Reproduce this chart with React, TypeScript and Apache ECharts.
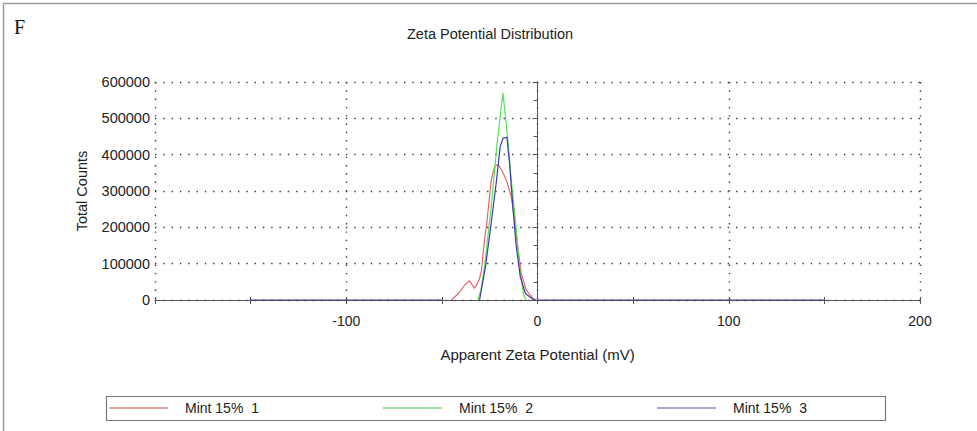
import React, { useEffect, useRef } from "react";
import * as echarts from "echarts";

// Zeta potential (mV) and total counts for the three runs
const run1Mv = [-45, -41, -38, -35.5, -33, -30.5, -29.4, -27.7, -26.5, -24.2, -22.5, -21.6, -20.2, -18.5, -16.3, -13.7, -12, -10.3, -8.5, -5.9, -2.4, -1];
const run1Counts = [0, 20000, 42000, 53000, 32000, 55000, 78000, 165000, 212000, 330000, 365000, 372000, 370000, 355000, 330000, 284000, 220000, 147000, 74000, 27000, 5000, 0];

const run2Mv = [-31.2, -29.5, -27.7, -24.2, -21.3, -18.1, -16, -13.7, -11.1, -9.4, -7.3, -5.9];
const run2Counts = [0, 30000, 92000, 257000, 422000, 570000, 468000, 330000, 193000, 92000, 14000, 0];

const run3Mv = [-150, -50, -40, -30.3, -27.2, -24.2, -21.6, -19.5, -18.1, -16, -14.6, -12.9, -11.1, -9, -6.3, -2.4, -1, -0.5, 0, 150];
const run3Counts = [0, 0, null, 0, 92000, 212000, 322000, 422000, 445000, 448000, 376000, 257000, 147000, 64000, 18000, 2000, 0, null, 0, 0];

const seriesNames = ["Mint 15%  1", "Mint 15%  2", "Mint 15%  3"];
const lineColors = ["#e5646c", "#58e058", "#3c3ca6"];
const legendColors = ["#e8a4a4", "#a6dea6", "#a8a8d2"];

const xTickLabels = ["-100", "0", "100", "200"];

const pairs = (xs: number[], ys: (number | null)[]) => xs.map((x, i) => [x, ys[i]]);

const FONT = "Liberation Sans, Arial, sans-serif";

export default function App() {
  const ref = useRef<HTMLDivElement>(null);

  useEffect(() => {
    if (!ref.current) return;
    const chart = echarts.init(ref.current, null, { renderer: "svg" });

    const dotted = { color: "#3a3a3a", width: 1.4, type: [1.4, 6.9] as number[] };

    const legendX = [109, 383, 657];

    chart.setOption({
      animation: false,
      backgroundColor: "#ffffff",
      grid: { left: 155, right: 57, top: 82, bottom: 131 },
      xAxis: [
        {
          type: "value",
          min: -200,
          max: 200,
          interval: 100,
          name: "Apparent Zeta Potential (mV)",
          nameLocation: "middle",
          nameGap: 47,
          nameTextStyle: { fontFamily: FONT, fontSize: 15, color: "#222" },
          axisLine: { show: true, onZero: false, lineStyle: { color: "#555", width: 1 } },
          axisTick: { show: true, length: 4, lineStyle: { color: "#555" } },
          minorTick: { show: true, splitNumber: 2, length: 4, lineStyle: { color: "#555" } },
          axisLabel: {
            margin: 14,
            fontFamily: FONT,
            fontSize: 14,
            color: "#222",
            formatter: (v: number) => (xTickLabels.includes(String(v)) ? String(v) : ""),
          },
          splitLine: { show: true, lineStyle: dotted },
        },
        {
          type: "value",
          min: -200,
          max: 200,
          interval: 100,
          position: "bottom",
          axisLine: { show: false },
          axisTick: { show: true, inside: true, length: 3, lineStyle: { color: "#555" } },
          minorTick: { show: true, splitNumber: 2, length: 3, lineStyle: { color: "#555" } },
          axisLabel: { show: false },
          splitLine: { show: false },
        },
      ],
      yAxis: {
        type: "value",
        min: 0,
        max: 600000,
        interval: 100000,
        name: "Total Counts",
        nameLocation: "middle",
        nameRotate: 90,
        nameGap: 66,
        nameTextStyle: { fontFamily: FONT, fontSize: 14.5, color: "#222" },
        axisLine: { show: true, lineStyle: { color: "#555", width: 1 } },
        axisTick: { show: true, length: 5, lineStyle: { color: "#555" } },
        minorTick: { show: true, splitNumber: 2, length: 4, lineStyle: { color: "#555" } },
        axisLabel: {
          margin: 5,
          fontFamily: FONT,
          fontSize: 14.5,
          color: "#222",
          formatter: (v: number) => String(v),
        },
        splitLine: {
          show: true,
          lineStyle: dotted,
        },
      },
      legend: seriesNames.map((name, i) => ({
        left: legendX[i],
        top: 401,
        padding: 0,
        itemWidth: 59,
        itemHeight: 2,
        icon: "rect",
        textStyle: { fontFamily: FONT, fontSize: 14, color: "#222", padding: [0, 0, 0, 12] },
        data: [{ name, itemStyle: { color: legendColors[i] } }],
      })),
      series: [
        { name: seriesNames[0], type: "line", symbol: "none", data: pairs(run1Mv, run1Counts), lineStyle: { color: lineColors[0], width: 1.2 }, itemStyle: { color: lineColors[0] } },
        { name: seriesNames[1], type: "line", symbol: "none", data: pairs(run2Mv, run2Counts), lineStyle: { color: lineColors[1], width: 1.2 }, itemStyle: { color: lineColors[1] } },
        { name: seriesNames[2], type: "line", symbol: "none", connectNulls: false, data: pairs(run3Mv, run3Counts), lineStyle: { color: lineColors[2], width: 1.2 }, itemStyle: { color: lineColors[2] } },
      ],
      graphic: [
        {
          type: "rect",
          shape: { x: 3.5, y: 3.5, width: 1000, height: 440 },
          style: { fill: "none", stroke: "#9a9a9a", lineWidth: 1.5 },
          silent: true,
        },
        {
          type: "text",
          x: 14,
          y: 17,
          style: { text: "F", font: "20px 'Liberation Serif', 'Times New Roman', serif", fill: "#111" },
        },
        {
          type: "text",
          x: 490,
          y: 34,
          style: { text: "Zeta Potential Distribution", font: `14.5px ${FONT}`, fill: "#222", textAlign: "center", textVerticalAlign: "middle" },
        },
        {
          type: "rect",
          shape: { x: 106.5, y: 396.5, width: 779, height: 24 },
          style: { fill: "none", stroke: "#777", lineWidth: 1.2 },
          silent: true,
          z: -1,
        },
      ],
    });

    return () => chart.dispose();
  }, []);

  return (
    <div
      ref={ref}
      style={{ position: "absolute", left: 0, top: 0, width: 977, height: 431 }}
    />
  );
}
